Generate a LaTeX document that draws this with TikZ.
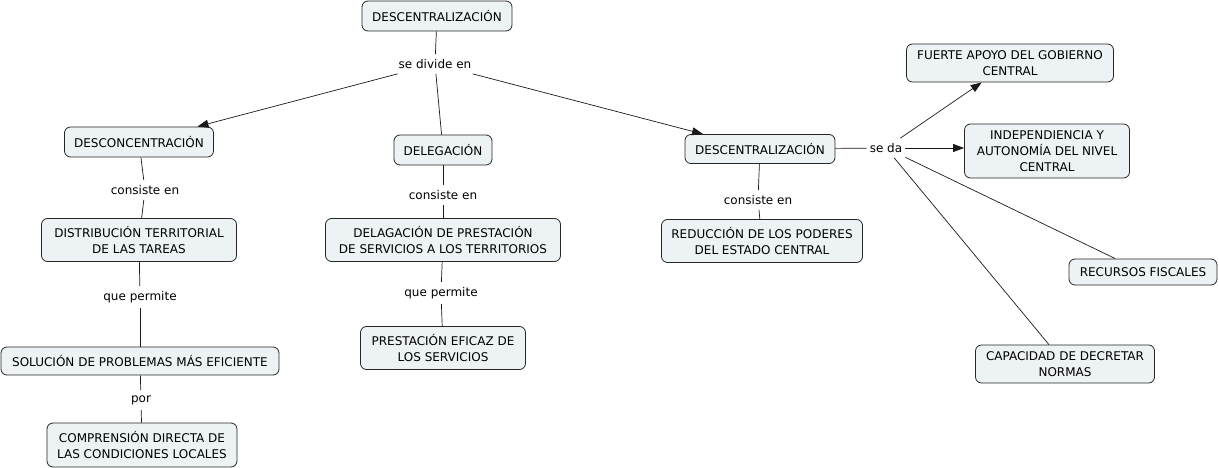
\documentclass[tikz,border=0pt]{standalone}
\usepackage{fontspec}
\setmainfont{DejaVu Sans}
\usetikzlibrary{arrows.meta}
\definecolor{boxfill}{RGB}{237,242,244}
\begin{document}
\begin{tikzpicture}[x=1pt,y=-1pt,
  font=\fontsize{12}{16}\selectfont,
  concept/.style={draw=black!85, fill=boxfill, rounded corners=6pt, line width=0.8pt, align=center, inner xsep=3pt, inner ysep=1pt},
  lbl/.style={fill=white, inner xsep=3pt, inner ysep=5pt},
  conn/.style={draw=black!90, line width=0.7pt},
  arr/.style={conn, -{Triangle[length=11pt,width=8pt]}}]
\useasboundingbox (0,0) rectangle (1219,468);
% concepts
\node[concept, minimum width=150pt, minimum height=30pt] (d1) at (437,16) {DESCENTRALIZACIÓN};
\node[concept, minimum width=149pt, minimum height=30pt] (descon) at (139,142) {DESCONCENTRACIÓN};
\node[concept, minimum width=98pt, minimum height=30pt] (deleg) at (443,150) {DELEGACIÓN};
\node[concept, minimum width=150pt, minimum height=29pt] (d2) at (760,149) {DESCENTRALIZACIÓN};
\node[concept, minimum width=207pt, minimum height=38pt] (fuerte) at (1010,63) {FUERTE APOYO DEL GOBIERNO\\CENTRAL};
\node[concept, minimum width=165pt, minimum height=54pt] (indep) at (1047,151) {INDEPENDIENCIA Y\\AUTONOMÍA DEL NIVEL\\CENTRAL};
\node[concept, minimum width=148pt, minimum height=26pt] (recur) at (1143,272) {RECURSOS FISCALES};
\node[concept, minimum width=179pt, minimum height=38pt] (capac) at (1065,364) {CAPACIDAD DE DECRETAR\\NORMAS};
\node[concept, minimum width=195pt, minimum height=43pt] (distrib) at (139,240) {DISTRIBUCIÓN TERRITORIAL\\DE LAS TAREAS};
\node[concept, minimum width=278pt, minimum height=28pt] (sol) at (140,361) {SOLUCIÓN DE PROBLEMAS MÁS EFICIENTE};
\node[concept, minimum width=190pt, minimum height=44pt] (comp) at (142,445) {COMPRENSIÓN DIRECTA DE\\LAS CONDICIONES LOCALES};
\node[concept, minimum width=235pt, minimum height=43pt] (delag) at (443,240) {DELAGACIÓN DE PRESTACIÓN\\DE SERVICIOS A LOS TERRITORIOS};
\node[concept, minimum width=165pt, minimum height=43pt] (prest) at (443,348) {PRESTACIÓN EFICAZ DE\\LOS SERVICIOS};
\node[concept, minimum width=201pt, minimum height=43pt] (red) at (762,241) {REDUCCIÓN DE LOS PODERES\\DEL ESTADO CENTRAL};
% linking phrases
\node[lbl] (sdiv) at (435,64) {se divide en};
\node[lbl] (seda) at (886,148) {se da};
\node[lbl] (l1) at (145,190) {consiste en};
\node[lbl] (l2) at (140,297) {que permite};
\node[lbl] (l3) at (141,400) {por};
\node[lbl] (l4) at (443,195) {consiste en};
\node[lbl] (l5) at (441,293) {que permite};
\node[lbl] (l6) at (758,200) {consiste en};
% connectors
\draw[conn] (d1) -- (sdiv);
\draw[arr] (sdiv) -- (descon);
\draw[conn] (sdiv) -- (deleg);
\draw[arr] (sdiv) -- (d2);
\draw[conn] (descon) -- (l1);
\draw[conn] (l1) -- (distrib);
\draw[conn] (distrib) -- (l2);
\draw[conn] (l2) -- (sol);
\draw[conn] (sol) -- (l3);
\draw[conn] (l3) -- (comp);
\draw[conn] (deleg) -- (l4);
\draw[conn] (l4) -- (delag);
\draw[conn] (delag) -- (l5);
\draw[conn] (l5) -- (prest);
\draw[conn] (d2) -- (l6);
\draw[conn] (l6) -- (red);
\draw[conn] (d2) -- (seda);
\draw[arr] (seda) -- (fuerte);
\draw[arr] (seda.east) -- (indep.west |- seda.east);
\draw[conn] (seda) -- (recur);
\draw[conn] (seda) -- (capac);
\end{tikzpicture}
\end{document}
